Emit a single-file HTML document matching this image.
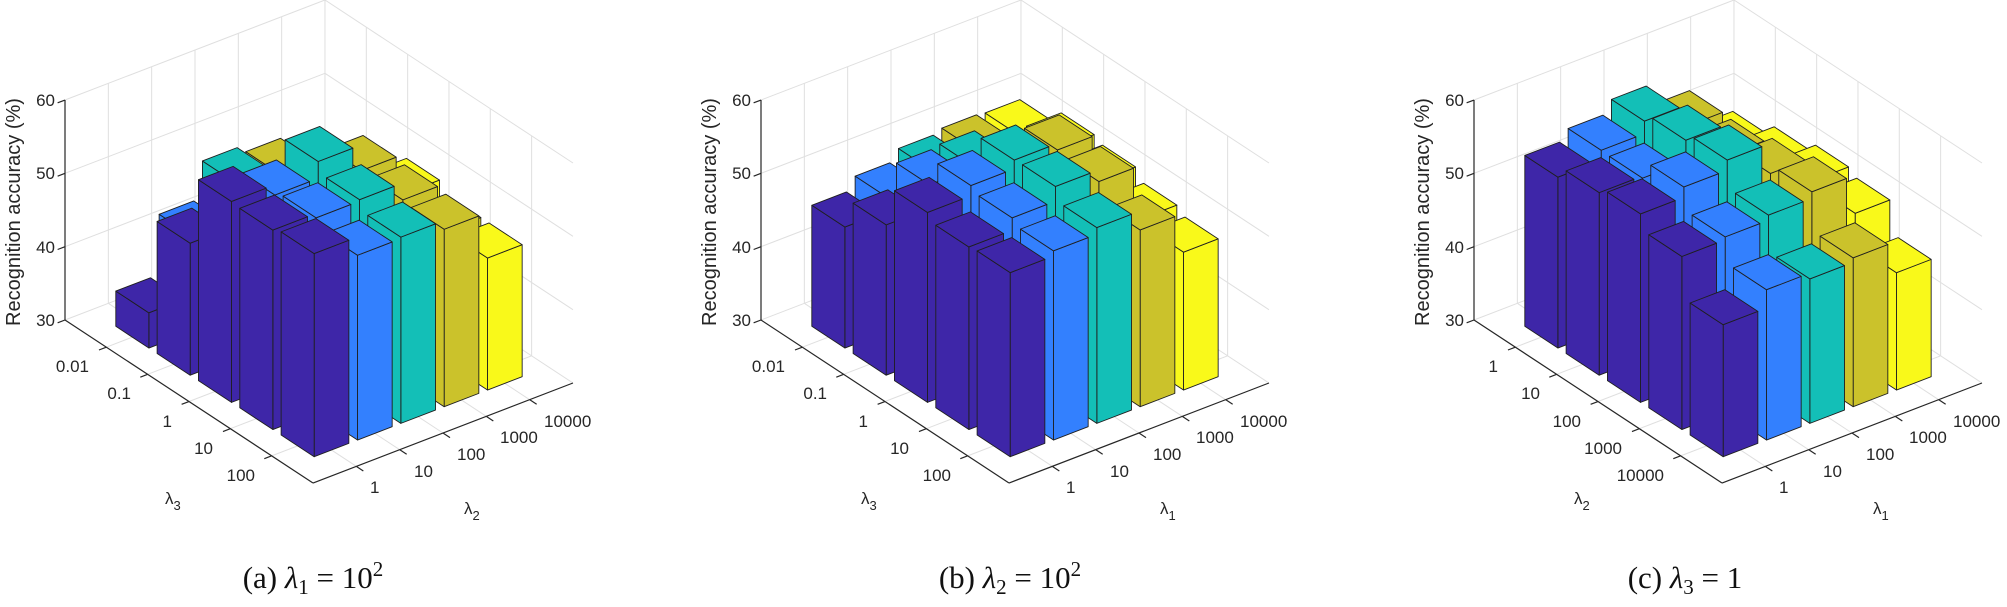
<!DOCTYPE html>
<html><head><meta charset="utf-8"><style>
html,body{margin:0;padding:0;background:#fff;}
svg{display:block;}
.t{font-family:"Liberation Sans",Arial,sans-serif;font-size:17px;fill:#262626;}
.yl{font-family:"Liberation Sans",Arial,sans-serif;font-size:20px;fill:#262626;}
.cap{font-family:"Liberation Serif","DejaVu Serif",serif;font-size:31px;fill:#111;}
</style></head><body>
<svg id="s" width="2007" height="607" viewBox="0 0 2007 607" xmlns="http://www.w3.org/2000/svg">
<g id="gridLayer"></g>
<g id="barLayer"></g>
<g id="lab0">
<text class="t" text-anchor="end" x="55" y="326">30</text>
<text class="t" text-anchor="end" x="55" y="253">40</text>
<text class="t" text-anchor="end" x="55" y="179">50</text>
<text class="t" text-anchor="end" x="55" y="106">60</text>
<text class="yl" text-anchor="middle" transform="translate(20,212) rotate(-90)">Recognition accuracy (%)</text>
<text class="t" text-anchor="end" x="89" y="372">0.01</text>
<text class="t" text-anchor="end" x="131" y="399">0.1</text>
<text class="t" text-anchor="end" x="172" y="427">1</text>
<text class="t" text-anchor="end" x="213" y="454">10</text>
<text class="t" text-anchor="end" x="255" y="481">100</text>
<text class="t" x="370" y="493">1</text>
<text class="t" x="414" y="477">10</text>
<text class="t" x="457" y="460">100</text>
<text class="t" x="500" y="443">1000</text>
<text class="t" x="544" y="427">10000</text>
<text class="t" x="165" y="504">λ<tspan dy="6" font-size="13">3</tspan></text>
<text class="t" x="464" y="514">λ<tspan dy="6" font-size="13">2</tspan></text>
<text class="cap" text-anchor="middle" x="313" y="588">(a)  <tspan font-style="italic">λ</tspan><tspan dy="6" font-size="21">1</tspan><tspan dy="-6"> = 10</tspan><tspan dy="-12" font-size="21">2</tspan></text>
</g>
<g transform="translate(696,0)">
<text class="t" text-anchor="end" x="55" y="326">30</text>
<text class="t" text-anchor="end" x="55" y="253">40</text>
<text class="t" text-anchor="end" x="55" y="179">50</text>
<text class="t" text-anchor="end" x="55" y="106">60</text>
<text class="yl" text-anchor="middle" transform="translate(20,212) rotate(-90)">Recognition accuracy (%)</text>
<text class="t" text-anchor="end" x="89" y="372">0.01</text>
<text class="t" text-anchor="end" x="131" y="399">0.1</text>
<text class="t" text-anchor="end" x="172" y="427">1</text>
<text class="t" text-anchor="end" x="213" y="454">10</text>
<text class="t" text-anchor="end" x="255" y="481">100</text>
<text class="t" x="370" y="493">1</text>
<text class="t" x="414" y="477">10</text>
<text class="t" x="457" y="460">100</text>
<text class="t" x="500" y="443">1000</text>
<text class="t" x="544" y="427">10000</text>
<text class="t" x="165" y="504">λ<tspan dy="6" font-size="13">3</tspan></text>
<text class="t" x="464" y="514">λ<tspan dy="6" font-size="13">1</tspan></text>
<text class="cap" text-anchor="middle" x="314" y="588">(b)  <tspan font-style="italic">λ</tspan><tspan dy="6" font-size="21">2</tspan><tspan dy="-6"> = 10</tspan><tspan dy="-12" font-size="21">2</tspan></text>
</g>
<g transform="translate(1409,0)">
<text class="t" text-anchor="end" x="55" y="326">30</text>
<text class="t" text-anchor="end" x="55" y="253">40</text>
<text class="t" text-anchor="end" x="55" y="179">50</text>
<text class="t" text-anchor="end" x="55" y="106">60</text>
<text class="yl" text-anchor="middle" transform="translate(20,212) rotate(-90)">Recognition accuracy (%)</text>
<text class="t" text-anchor="end" x="89" y="372">1</text>
<text class="t" text-anchor="end" x="131" y="399">10</text>
<text class="t" text-anchor="end" x="172" y="427">100</text>
<text class="t" text-anchor="end" x="213" y="454">1000</text>
<text class="t" text-anchor="end" x="255" y="481">10000</text>
<text class="t" x="370" y="493">1</text>
<text class="t" x="414" y="477">10</text>
<text class="t" x="457" y="460">100</text>
<text class="t" x="500" y="443">1000</text>
<text class="t" x="544" y="427">10000</text>
<text class="t" x="165" y="504">λ<tspan dy="6" font-size="13">2</tspan></text>
<text class="t" x="464" y="514">λ<tspan dy="6" font-size="13">1</tspan></text>
<text class="cap" text-anchor="middle" x="276" y="588">(c)  <tspan font-style="italic">λ</tspan><tspan dy="6" font-size="21">3</tspan><tspan dy="-6"> = 1</tspan></text>
</g>
</svg>
<script>
(function(){
var NS="http://www.w3.org/2000/svg";
var gl=document.getElementById("gridLayer"), bl=document.getElementById("barLayer");
var H=[
[[4.8,13,18,17,15],[18,19,18,17,15],[27.4,26,28.3,24.8,19.4],[27.2,26.6,26.8,24.5,18],[27.7,25.2,25.4,24.2,18]],
[[16.5,18.2,19.7,20.2,20],[20.5,23.7,24,22,21.9],[25.9,27.3,28.5,27.6,21.2],[24.9,26.6,28.6,27,19.7],[25.1,25.8,26.7,24.1,18.8]],
[[23.3,24.7,26.4,23.5,18.4],[24.9,24.6,27.5,23.3,20],[25.7,27.1,28.5,24.4,21.2],[23.6,24,24.7,25.6,20.4],[18,20.5,19.7,20.3,16]]
];
var offs=[0,696,1409];
var cols=['#3e26a8','#3380fe','#13bfb7','#cbc22b','#f9f91a'];
function P(ox,u,v,z){return [ox+65+41.33*u+43.33*v, 320+27.17*u-16.67*v-7.333*z];}
function line(g,a,b,c,w){var l=document.createElementNS(NS,"line");l.setAttribute("x1",a[0].toFixed(2));l.setAttribute("y1",a[1].toFixed(2));l.setAttribute("x2",b[0].toFixed(2));l.setAttribute("y2",b[1].toFixed(2));l.setAttribute("stroke",c);l.setAttribute("stroke-width",w);g.appendChild(l);}
function poly(g,pts,fill){var p=document.createElementNS(NS,"polygon");p.setAttribute("points",pts.map(function(q){return q[0].toFixed(2)+","+q[1].toFixed(2);}).join(" "));p.setAttribute("fill",fill);p.setAttribute("stroke","#1f1f1f");p.setAttribute("stroke-width","0.9");p.setAttribute("stroke-linejoin","round");g.appendChild(p);}
var gc="#dfdfdf";
for(var i=0;i<3;i++){
 var o=offs[i],k,z;
 for(k=1;k<=5;k++){line(gl,P(o,k,0,0),P(o,k,6,0),gc,1);line(gl,P(o,0,k,0),P(o,6,k,0),gc,1);}
 for(k=1;k<=6;k++){line(gl,P(o,0,k,0),P(o,0,k,30),gc,1);}
 for(k=1;k<=5;k++){line(gl,P(o,k,6,0),P(o,k,6,30),gc,1);}
 for(z=0;z<=30;z+=10){line(gl,P(o,0,0,z),P(o,0,6,z),gc,1);line(gl,P(o,0,6,z),P(o,6,6,z),gc,1);}
 var ac="#262626";
 line(gl,P(o,0,0,0),P(o,0,0,30),ac,1.2);
 line(gl,P(o,0,0,0),P(o,6,0,0),ac,1.2);
 line(gl,P(o,6,0,0),P(o,6,6,0),ac,1.2);
 for(z=0;z<=30;z+=10){line(gl,P(o,0,0,z),P(o,0,-0.17,z),ac,1.2);}
 for(k=1;k<=5;k++){line(gl,P(o,k,0,0),P(o,k,-0.17,0),ac,1.2);line(gl,P(o,6,k,0),P(o,6.17,k,0),ac,1.2);}
 var M=H[i];
 for(var r=1;r<=5;r++){
  for(var c=5;c>=1;c--){
   var h=M[r-1][c-1],u0=r-0.4,u1=r+0.4,v0=c-0.4,v1=c+0.4,f=cols[c-1];
   poly(bl,[P(o,u1,v0,0),P(o,u1,v1,0),P(o,u1,v1,h),P(o,u1,v0,h)],f);
   poly(bl,[P(o,u0,v0,0),P(o,u1,v0,0),P(o,u1,v0,h),P(o,u0,v0,h)],f);
   poly(bl,[P(o,u0,v0,h),P(o,u1,v0,h),P(o,u1,v1,h),P(o,u0,v1,h)],f);
  }
 }
}
})();
</script>
</body></html>
